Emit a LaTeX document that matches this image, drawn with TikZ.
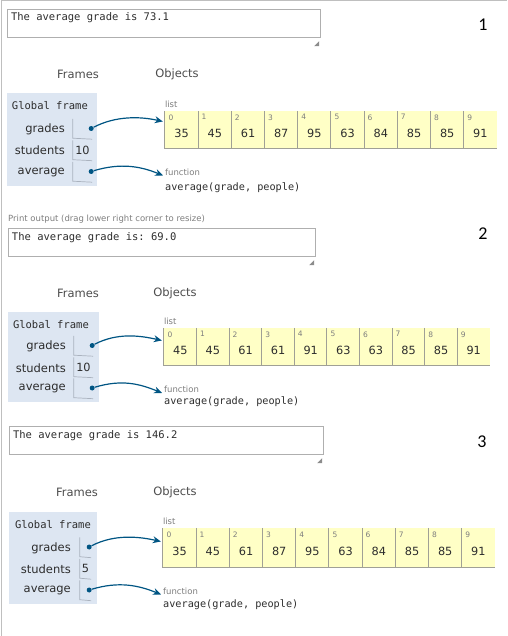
\documentclass[tikz,border=0pt]{standalone}
\usepackage{fontspec}
\setmainfont{DejaVu Sans}
\setmonofont{DejaVu Sans Mono}
\newfontfamily\numfont{Carlito}
\usetikzlibrary{shapes.geometric, arrows, arrows.meta, positioning}
\definecolor{framebg}{RGB}{221,230,242}
\definecolor{listbg}{RGB}{255,255,198}
\definecolor{cellline}{RGB}{160,160,150}
\definecolor{varline}{RGB}{170,178,190}
\definecolor{ptblue}{RGB}{0,85,131}
\definecolor{lblgray}{RGB}{125,125,125}
\definecolor{boxline}{RGB}{175,175,175}
\definecolor{ink}{RGB}{45,45,45}
\tikzstyle{edge} = [draw=black!25, line width=1pt]
\tikzstyle{outbox} = [rectangle, draw=boxline, minimum height=28pt, inner sep=0pt]
\tikzstyle{outtext} = [inner sep=0pt, text=ink, font=\ttfamily\fontsize{10.5}{12}\selectfont]
\tikzstyle{grip} = [fill=black!45]
\tikzstyle{numlbl} = [text=black, font=\numfont\fontsize{18}{22}\selectfont]
\tikzstyle{colhead} = [text=black!70, font=\fontsize{11.5}{13}\selectfont]
\tikzstyle{framebox} = [rectangle, fill=framebg, inner sep=0pt]
\tikzstyle{framename} = [inner sep=0pt, text=ink, font=\ttfamily\fontsize{10.5}{12}\selectfont]
\tikzstyle{varname} = [anchor=east, inner sep=0pt, text=ink, font=\fontsize{11.5}{13}\selectfont]
\tikzstyle{valcell} = [rectangle, minimum height=21pt, inner sep=0pt, text=ink, font=\fontsize{11.3}{13}\selectfont]
\tikzstyle{varcell} = [draw=varline, line width=0.7pt]
\tikzstyle{cellline} = [draw=cellline, line width=0.8pt]
\tikzstyle{ptrdot} = [circle, fill=ptblue, inner sep=0pt, minimum size=5pt]
\tikzstyle{listcell} = [rectangle, fill=listbg, inner sep=0pt, minimum height=37pt]
\tikzstyle{idxnum} = [inner sep=0pt, text=lblgray, font=\fontsize{7.5}{8}\selectfont]
\tikzstyle{listval} = [inner sep=0pt, text=ink, font=\fontsize{11.3}{13}\selectfont]
\tikzstyle{smalllbl} = [inner sep=0pt, text=lblgray, font=\fontsize{8.5}{10}\selectfont]
\tikzstyle{codetext} = [inner sep=0pt, text=ink, font=\ttfamily\fontsize{10.2}{12}\selectfont]
\tikzstyle{arrow} = [draw=ptblue, line width=1.2pt, -{Stealth[length=8pt, width=7pt]}]

\begin{document}
\begin{tikzpicture}[x=1pt, y=-1pt]
\useasboundingbox (0,0) rectangle (507,636);
\draw [edge] (1,636) -- (1,1) -- (507,1);

% run 1
\node (out1) [outbox, minimum width=313pt] at (163.5,23) {};
\node (outtxt1) [outtext, below right=4pt and 4pt of out1.north west] {The average grade is 73.1};
\fill [grip] ([xshift=-1pt,yshift=-9pt]out1.south east) -- ++(-5,0) -- ++(5,-5) -- cycle;
\node (num1) [numlbl] at (483,25) {1};
\node (frames1) [colhead] at (78,74) {Frames};
\node (objects1) [colhead] at (177,74) {Objects};
\node (fr1) [framebox, minimum width=90pt, minimum height=93pt] at (52,139.5) {};
\node (gf1) [framename, below right=8pt and 5pt of fr1.north west] {Global frame};
\node (gn1) [varname] at (65,129) {grades};
\node (sn1) [varname] at (65,150) {students};
\node (an1) [varname] at (65,172) {average};
\node (gv1) [valcell, minimum width=19pt] at (82.5,128.5) {};
\node (sv1) [valcell, minimum width=19pt] at (82.5,150) {10};
\node (av1) [valcell, minimum width=19pt] at (82.5,171.5) {};
\draw [varcell] ([yshift=-1pt]gv1.north west) -- ([yshift=1pt]gv1.south west) -- (gv1.south east);
\draw [varcell] ([yshift=-1pt]sv1.north west) -- ([yshift=1pt]sv1.south west) -- (sv1.south east);
\draw [varcell] ([yshift=-1pt]av1.north west) -- ([yshift=1pt]av1.south west) -- (av1.south east);
\node (gd1) [ptrdot] at ([xshift=-1pt]gv1.east) {};
\node (ad1) [ptrdot] at ([xshift=-1pt]av1.east) {};
\foreach \v [count=\i from 0] in {35,45,61,87,95,63,84,85,85,91} {
  \node (la1-\i) [listcell, minimum width=33.2pt] at (181.6+33.2*\i,129.5) {};
  \draw [cellline] (la1-\i.north west) -- (la1-\i.south west) -- (la1-\i.south east);
  \node [idxnum, below right=3.5pt and 3.5pt of la1-\i.north west] {\i};
  \node [listval] at ([yshift=-3.5pt]la1-\i.center) {\v};
}
\node (ll1) [smalllbl, above right=3pt and 0pt of la1-0.north west] {list};
\node (fn1) [smalllbl, anchor=west] at (165,172) {function};
\node (code1) [codetext, below right=7pt and 0pt of fn1.south west] {average(grade, people)};
\draw [arrow] (gd1) .. controls +(25,-13) and +(-22,-5) .. ([xshift=-2pt,yshift=8pt]la1-0.west);
\draw [arrow] (ad1) .. controls +(30,-9) and +(-22,-9) .. ([xshift=-2pt]fn1.south west);

% run 2
\node (hint2) [smalllbl, anchor=west] at (8,219) {Print output (drag lower right corner to resize)};
\node (out2) [outbox, minimum width=307pt] at (161.5,242) {};
\node (outtxt2) [outtext, below right=5pt and 4pt of out2.north west] {The average grade is: 69.0};
\fill [grip] ([xshift=-1pt,yshift=-9pt]out2.south east) -- ++(-5,0) -- ++(5,-5) -- cycle;
\node (num2) [numlbl] at (483,234) {2};
\node (frames2) [colhead] at (78,293) {Frames};
\node (objects2) [colhead] at (175,293) {Objects};
\node (fr2) [framebox, minimum width=91pt, minimum height=90pt] at (53.5,357) {};
\node (gf2) [framename, below right=8pt and 5pt of fr2.north west] {Global frame};
\node (gn2) [varname] at (66,346) {grades};
\node (sn2) [varname] at (66,368) {students};
\node (an2) [varname] at (66,388) {average};
\node (gv2) [valcell, minimum width=19pt] at (83.5,345.5) {};
\node (sv2) [valcell, minimum width=19pt] at (83.5,367) {10};
\node (av2) [valcell, minimum width=19pt] at (83.5,388) {};
\draw [varcell] ([yshift=-1pt]gv2.north west) -- ([yshift=1pt]gv2.south west) -- (gv2.south east);
\draw [varcell] ([yshift=-1pt]sv2.north west) -- ([yshift=1pt]sv2.south west) -- (sv2.south east);
\draw [varcell] ([yshift=-1pt]av2.north west) -- ([yshift=1pt]av2.south west) -- (av2.south east);
\node (gd2) [ptrdot] at ([xshift=-1pt]gv2.east) {};
\node (ad2) [ptrdot] at ([xshift=-1pt]av2.east) {};
\foreach \v [count=\i from 0] in {45,45,61,61,91,63,63,85,85,91} {
  \node (la2-\i) [listcell, minimum width=32.6pt] at (180.3+32.6*\i,346.5) {};
  \draw [cellline] (la2-\i.north west) -- (la2-\i.south west) -- (la2-\i.south east);
  \node [idxnum, below right=3.5pt and 3.5pt of la2-\i.north west] {\i};
  \node [listval] at ([yshift=-3.5pt]la2-\i.center) {\v};
}
\node (ll2) [smalllbl, above right=3pt and 0pt of la2-0.north west] {list};
\node (fn2) [smalllbl, anchor=west] at (164,389.5) {function};
\node (code2) [codetext, below right=4pt and 0pt of fn2.south west] {average(grade, people)};
\draw [arrow] (gd2) .. controls +(25,-13) and +(-22,-5) .. ([xshift=-2pt,yshift=6pt]la2-0.west);
\draw [arrow] (ad2) .. controls +(30,-9) and +(-22,-9) .. ([xshift=-2pt]fn2.south west);

% run 3
\node (out3) [outbox, minimum width=314pt] at (166,440) {};
\node (outtxt3) [outtext, below right=5pt and 4pt of out3.north west] {The average grade is 146.2};
\fill [grip] ([xshift=-1pt,yshift=-9pt]out3.south east) -- ++(-5,0) -- ++(5,-5) -- cycle;
\node (num3) [numlbl] at (482,442) {3};
\node (frames3) [colhead] at (77,492) {Frames};
\node (objects3) [colhead] at (175,492) {Objects};
\node (fr3) [framebox, minimum width=88pt, minimum height=92pt] at (53,558) {};
\node (gf3) [framename, below right=8pt and 6pt of fr3.north west] {Global frame};
\node (gn3) [varname] at (71,548) {grades};
\node (sn3) [varname] at (71,569) {students};
\node (an3) [varname] at (71,590) {average};
\node (gv3) [valcell, minimum width=11pt] at (85.5,547) {};
\node (sv3) [valcell, minimum width=11pt] at (85.5,568.5) {5};
\node (av3) [valcell, minimum width=11pt] at (85.5,590) {};
\draw [varcell] ([yshift=-1pt]gv3.north west) -- ([yshift=1pt]gv3.south west) -- (gv3.south east);
\draw [varcell] ([yshift=-1pt]sv3.north west) -- ([yshift=1pt]sv3.south west) -- (sv3.south east);
\draw [varcell] ([yshift=-1pt]av3.north west) -- ([yshift=1pt]av3.south west) -- (av3.south east);
\node (gd3) [ptrdot] at ([xshift=-2pt]gv3.east) {};
\node (ad3) [ptrdot] at ([xshift=-2pt]av3.east) {};
\foreach \v [count=\i from 0] in {35,45,61,87,95,63,84,85,85,91} {
  \node (la3-\i) [listcell, minimum width=33.2pt, minimum height=39pt] at (179.6+33.2*\i,547.5) {};
  \draw [cellline] (la3-\i.north west) -- (la3-\i.south west) -- (la3-\i.south east);
  \node [idxnum, below right=4pt and 3.5pt of la3-\i.north west] {\i};
  \node [listval] at ([yshift=-4pt]la3-\i.center) {\v};
}
\node (ll3) [smalllbl, above right=3pt and 0pt of la3-0.north west] {list};
\node (fn3) [smalllbl, anchor=west] at (163,591) {function};
\node (code3) [codetext, below right=5pt and 0pt of fn3.south west] {average(grade, people)};
\draw [arrow] (gd3) .. controls +(25,-13) and +(-22,-5) .. ([xshift=-2pt,yshift=6pt]la3-0.west);
\draw [arrow] (ad3) .. controls +(30,-9) and +(-22,-9) .. ([xshift=-2pt]fn3.south west);
\end{tikzpicture}
\end{document}
